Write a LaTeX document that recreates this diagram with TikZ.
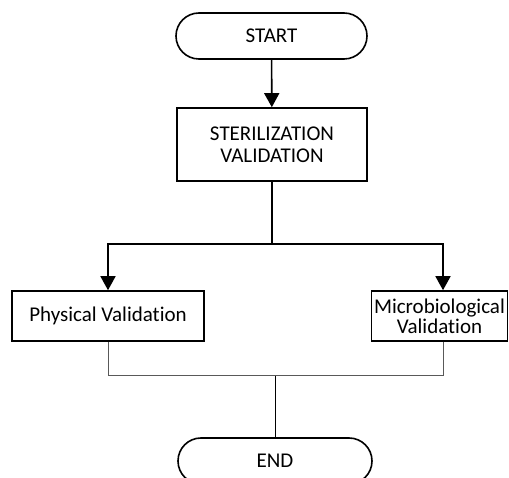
\documentclass[tikz,border=0pt]{standalone}
\usepackage{fontspec}
\setmainfont{Carlito}[Ligatures=NoCommon]
\usetikzlibrary{arrows.meta}
\begin{document}
\begin{tikzpicture}[x=1pt,y=-1pt,
  font=\fontsize{21}{22}\selectfont,
  terminal/.style={draw,line width=1.6pt,rounded corners=23pt,minimum width=191pt,minimum height=46pt,inner sep=0pt},
  procbox/.style={draw,line width=1.6pt,minimum height=50pt,inner sep=0pt,align=center},
  flow/.style={line width=1.6pt,-{Triangle[length=14pt,width=15pt]}},
  mergeline/.style={line width=1pt,draw=black!65}]
  \useasboundingbox (0,0) rectangle (509,478);
  \node[terminal] (start) at (271.5,36) {START};
  \node[procbox,minimum width=190pt,minimum height=73pt] (steril) at (272,144.5) {STERILIZATION\\VALIDATION};
  \node[procbox,minimum width=136pt,text width=136pt] (micro) at (439.5,316) {Microbiological\\[-2pt]Validation};
  \node[procbox,minimum width=192pt] (phys) at (108,316) {Physical Validation};
  \node[terminal,minimum width=194pt] (end) at (275,461) {END};
  \coordinate (split) at (272,244);
  \coordinate (merge) at (275,376);
  \draw[flow] (start) -- (steril);
  \draw[line width=1.6pt] (steril.south) -- (split);
  \draw[flow] (split) -| (phys.north);
  \draw[flow] (split) -| ([xshift=3.5pt]micro.north);
  \draw[mergeline] (phys.south) |- (merge);
  \draw[mergeline] ([xshift=3.5pt]micro.south) |- (merge);
  \draw[line width=1pt] (merge) -- (end.north -| merge);
\end{tikzpicture}
\end{document}
